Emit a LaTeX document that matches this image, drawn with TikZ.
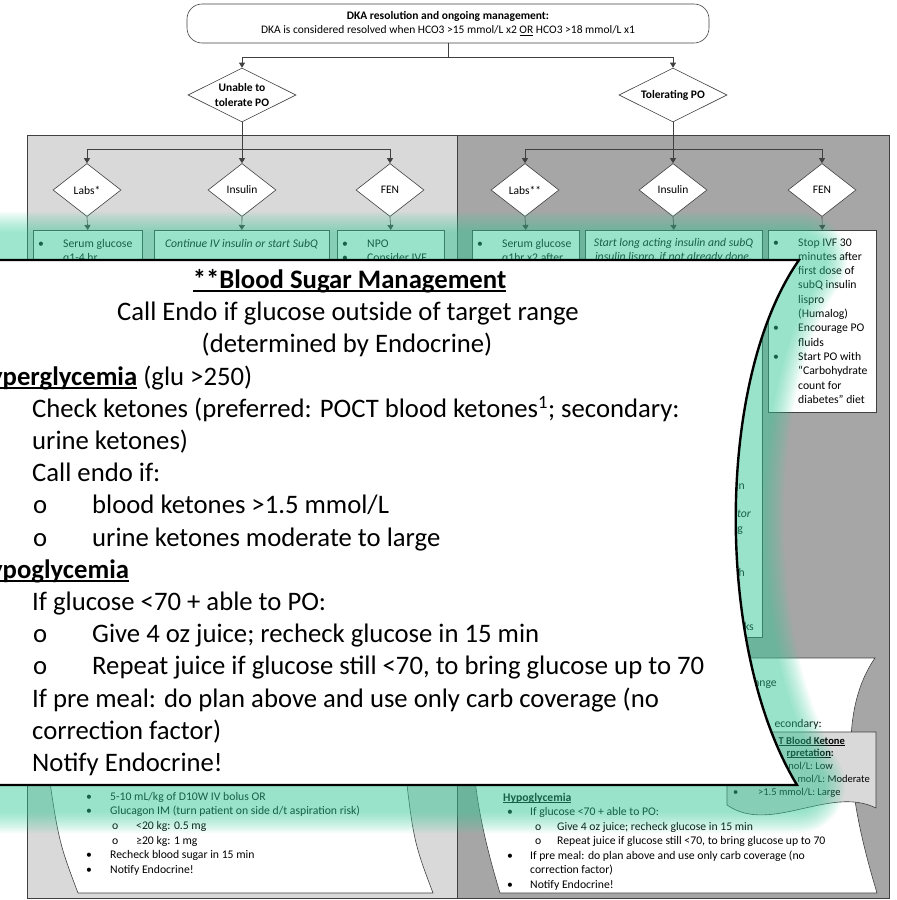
\documentclass[tikz,border=0pt]{standalone}
\usepackage{fontspec}
\setmainfont{Carlito}
\usetikzlibrary{arrows.meta,positioning,calc,shapes.geometric}
\definecolor{panelLight}{RGB}{217,217,217}
\definecolor{panelDark}{RGB}{166,166,166}
\definecolor{lineGray}{RGB}{64,64,64}
\definecolor{glowMint}{RGB}{55,205,155}

\newcommand{\smallul}[1]{\underline{\smash{#1}}}
\newcommand{\bigul}[1]{\setbox0\hbox{#1}\rlap{\rule[-3.5pt]{\wd0}{1.6pt}}\box0}
\newcommand{\bul}{\makebox[25pt][l]{\textbullet}}
\newcommand{\ind}{\hspace*{25pt}}
\newcommand{\bigo}{\makebox[59pt][l]{o}}
\def\calloutpath{(-30,260) -- (799,260) .. controls (715,380) and (715,650) .. (797,785) -- (-30,785) -- cycle}

\begin{document}
\begin{tikzpicture}[x=1pt, y=-1pt,
  decision/.style={diamond, draw=lineGray, fill=white, line width=0.6pt, inner sep=0pt,
                   font=\fontsize{11.5}{14.5}\selectfont, align=center},
  stepbox/.style={draw=lineGray, fill=white, line width=0.6pt, anchor=north west, inner sep=0pt},
  flow/.style={draw=lineGray, line width=0.6pt, -{Triangle[width=6pt,length=5pt]}},
  txt/.style={font=\fontsize{11.7}{14.3}\selectfont, anchor=base west, inner sep=0pt, align=left},
  big/.style={font=\fontsize{26.7}{32}\selectfont, anchor=base west, inner sep=0pt},
  glow/.style={draw=glowMint, line join=round, draw opacity=0.06}
]
\useasboundingbox (0,0) rectangle (897,900);
\clip (0,0) rectangle (897,900);

% panels
\draw[fill=panelLight, draw=lineGray, line width=0.6pt] (27,135) rectangle (457,898);
\draw[fill=panelDark, draw=lineGray, line width=0.6pt] (457,135) rectangle (889,898);

% header and first split
\node[draw=lineGray, line width=0.6pt, rounded corners=15pt, minimum width=522pt,
      minimum height=39pt, inner sep=0pt, align=center,
      font=\fontsize{11.5}{14}\selectfont] (resolved) at (448,23.5)
  {\textbf{DKA resolution and ongoing management:}\\
   DKA is considered resolved when HCO3 >15 mmol/L x2 \smallul{OR} HCO3 >18 mmol/L x1};
\node[decision, shape aspect=2, minimum width=108pt, minimum height=54pt,
      font=\bfseries\fontsize{11.5}{14.5}\selectfont] (unable) at (242,95) {Unable to\\tolerate PO};
\node[decision, shape aspect=2, minimum width=108pt, minimum height=54pt,
      font=\bfseries\fontsize{11.5}{14.5}\selectfont] (tolerating) at (673,95) {Tolerating PO};
\draw[flow] (resolved.south) -- ++(0,14) -| (unable.north);
\draw[flow] (resolved.south) -- ++(0,14) -| (tolerating.north);

% sub decisions
\node[decision, shape aspect=1.3, minimum width=68pt, minimum height=53pt] (labsA) at (87,190) {Labs*};
\node[decision, shape aspect=1.3, minimum width=68pt, minimum height=53pt] (insA) at (242,190) {Insulin};
\node[decision, shape aspect=1.3, minimum width=68pt, minimum height=53pt] (fenA) at (390,190) {FEN};
\node[decision, shape aspect=1.3, minimum width=68pt, minimum height=53pt] (labsB) at (525,190) {Labs**};
\node[decision, shape aspect=1.3, minimum width=68pt, minimum height=53pt] (insB) at (673,190) {Insulin};
\node[decision, shape aspect=1.3, minimum width=68pt, minimum height=53pt] (fenB) at (822,190) {FEN};
\draw[flow] (unable.south) -- ++(0,27) -| (labsA.north);
\draw[flow] (unable.south) -- (insA.north);
\draw[flow] (unable.south) -- ++(0,27) -| (fenA.north);
\draw[flow] (tolerating.south) -- ++(0,27) -| (labsB.north);
\draw[flow] (tolerating.south) -- (insB.north);
\draw[flow] (tolerating.south) -- ++(0,27) -| (fenB.north);

% boxes
\node[stepbox, minimum width=109pt, minimum height=410pt] (labsAbox) at (33,230) {};
\node[stepbox, minimum width=175pt, minimum height=410pt] (insAbox) at (154,230) {};
\node[stepbox, minimum width=107pt, minimum height=410pt] (fenAbox) at (337,230) {};
\node[stepbox, minimum width=107pt, minimum height=410pt] (labsBbox) at (472,230) {};
\node[stepbox, minimum width=177pt, minimum height=407pt] (insBbox) at (585,230) {};
\node[stepbox, minimum width=108pt, minimum height=182pt] (fenBbox) at (768,230) {};
\foreach \d/\b in {labsA/labsAbox, insA/insAbox, fenA/fenAbox, labsB/labsBbox, insB/insBbox, fenB/fenBbox}
  \draw[flow] (\d.south) -- (\b.north);

% multi-line texts sit on the baseline of their last line
\node[txt] (labsAtxt) at (38,261.3) {\bul Serum glucose\\\ind q1-4 hr};
\node[txt, anchor=base] (insAtxt) at (241.5,247) {\itshape Continue IV insulin or start SubQ};
\node[txt] (fenAtxt) at (342,261.3) {\bul NPO\\\bul Consider IVF};
\node[txt] (labsBtxt) at (477,261.3) {\bul Serum glucose\\\ind q1hr x2 after};
\node[txt, align=center, anchor=base] (insBtxt) at (673.5,260.3)
  {\itshape Start long acting insulin and subQ\\\itshape insulin lispro, if not already done.};
\node[txt] (fenBtxt) at (773,403.3)
  {\bul Stop IVF 30\\\ind minutes after\\\ind first dose of\\\ind subQ insulin\\\ind lispro\\\ind (Humalog)\\
   \bul Encourage PO\\\ind fluids\\\bul Start PO with\\\ind “Carbohydrate\\\ind count for\\\ind diabetes” diet};
\node[txt, anchor=base east] (frIn) at (745,489) {in};
\node[txt, anchor=base east] (frCtor) at (751,517) {\itshape ctor};
\node[txt, anchor=base east] (frIng) at (743,532) {ing};
\node[txt, anchor=base east] (frTh) at (745,576) {th};
\node[txt, anchor=base east] (frKs) at (754,630) {ks};

% lower left card
\draw[fill=white, draw=lineGray, line width=0.6pt]
  (78,893) -- (433,893) .. controls (413,840) .. (402,740) -- (44,740) .. controls (58,840) .. (78,893);
\node[txt, font=\fontsize{11.7}{14.7}\selectfont] (hypoAtxt) at (86,873.5)
  {\makebox[24pt][l]{\textbullet}5-10 mL/kg of D10W IV bolus OR\\
   \makebox[24pt][l]{\textbullet}Glucagon IM (turn patient on side d/t aspiration risk)\\
   \hspace*{26pt}\makebox[24pt][l]{o}<20 kg: 0.5 mg\\
   \hspace*{26pt}\makebox[24pt][l]{o}≥20 kg: 1 mg\\
   \makebox[24pt][l]{\textbullet}Recheck blood sugar in 15 min\\
   \makebox[24pt][l]{\textbullet}Notify Endocrine!};

% lower right card
\draw[fill=white, draw=lineGray, line width=0.6pt]
  (500,893) -- (877,893) .. controls (855,820) and (832,720) .. (875,658)
  -- (495,658) .. controls (455,720) and (478,820) .. (500,893);
\node[txt, anchor=base east] (frAnge) at (777,686) {ange};
\node[txt, anchor=base east] (frSecondary) at (822,727) {econdary:};
\draw[fill=panelLight, draw=lineGray, line width=0.6pt]
  (727,732) -- (876,732) -- (876,808) .. controls (830,785) and (770,835) .. (727,805) -- cycle;
\node[txt, anchor=base east, font=\bfseries\fontsize{10.5}{12.8}\selectfont] (ketA) at (845,744) {\smallul{T Blood Ketone}};
\node[txt, anchor=base east, font=\bfseries\fontsize{10.5}{12.8}\selectfont] (ketB) at (834,756) {\smallul{rpretation}:};
\node[txt, anchor=base east, font=\fontsize{10.5}{12.8}\selectfont] (ketC) at (833,769) {nol/L: Low};
\node[txt, anchor=base east, font=\fontsize{10.5}{12.8}\selectfont] (ketD) at (870,782) {mol/L: Moderate};
\node[txt, font=\fontsize{10.5}{12.8}\selectfont] (ketE) at (733,795) {\makebox[25pt][l]{\textbullet}>1.5 mmol/L: Large};
\node[txt, font=\bfseries\fontsize{11.7}{14.5}\selectfont] (hypoBhead) at (503,801) {\smallul{Hypoglycemia}};
\node[txt, font=\fontsize{11.7}{14.5}\selectfont] (hypoBtxt) at (507,888)
  {\makebox[23pt][l]{\textbullet}If glucose <70 + able to PO:\\
   \hspace*{28pt}\makebox[22pt][l]{o}Give 4 oz juice; recheck glucose in 15 min\\
   \hspace*{28pt}\makebox[22pt][l]{o}Repeat juice if glucose still <70, to bring glucose up to 70\\
   \makebox[23pt][l]{\textbullet}If pre meal: do plan above and use only carb coverage (no\\
   \hspace*{23pt}correction factor)\\
   \makebox[23pt][l]{\textbullet}Notify Endocrine!};

% zoom callout with glow
\foreach \w in {56,60,...,96}
  \draw[glow, line width=\w pt] \calloutpath;
\draw[fill=white, draw=black, line width=2.4pt] \calloutpath;

\node[big, anchor=base] (bsTitle) at (349.5,288.5) {\textbf{\bigul{**Blood Sugar Management}}};
\node[big, anchor=base] (bsCall) at (348,320.7) {Call Endo if glucose outside of target range};
\node[big, anchor=base] (bsDet) at (347,352.9) {(determined by Endocrine)};
\node[big] (bsHyper) at (-27,385.1) {\textbf{\bigul{Hyperglycemia}} (glu >250)};
\node[big] (bsCheck) at (32,417.3) {Check ketones (preferred: POCT blood ketones\textsuperscript{1}; secondary:};
\node[big] (bsUrine) at (32,449.5) {urine ketones)};
\node[big] (bsEndo) at (32,481.7) {Call endo if:};
\node[big] (bsOBlood) at (33,513.9) {\bigo blood ketones >1.5 mmol/L};
\node[big] (bsOUrine) at (33,546.1) {\bigo urine ketones moderate to large};
\node[big] (bsHypo) at (-27,578.3) {\textbf{\bigul{Hypoglycemia}}};
\node[big] (bsIfGlu) at (32,610.5) {If glucose <70 + able to PO:};
\node[big] (bsOGive) at (33,642.7) {\bigo Give 4 oz juice; recheck glucose in 15 min};
\node[big] (bsORepeat) at (33,674.9) {\bigo Repeat juice if glucose still <70, to bring glucose up to 70};
\node[big] (bsPre) at (32,707.1) {If pre meal: do plan above and use only carb coverage (no};
\node[big] (bsCorr) at (32,739.3) {correction factor)};
\node[big] (bsNotify) at (32,771.5) {Notify Endocrine!};
\end{tikzpicture}
\end{document}
